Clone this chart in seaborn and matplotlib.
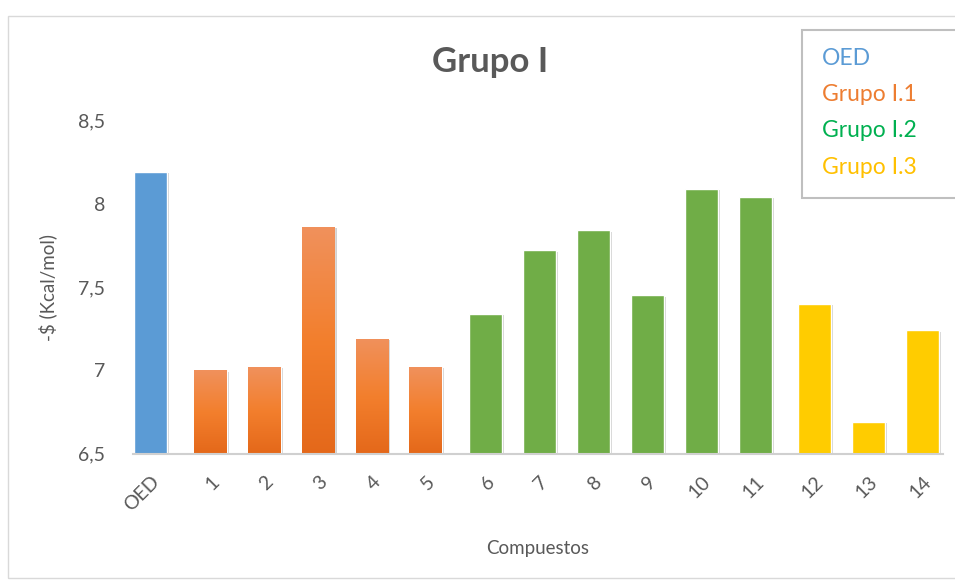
import matplotlib.pyplot as plt
import matplotlib.patheffects as pe
from matplotlib.colors import LinearSegmentedColormap
from matplotlib.patches import Rectangle
import numpy as np
import pandas as pd
import seaborn as sns

compuestos = ['OED', '1', '2', '3', '4', '5', '6', '7', '8', '9', '10',
              '11', '12', '13', '14']
energia = [8.19, 7.00, 7.02, 7.86, 7.19, 7.02, 7.34, 7.72, 7.84, 7.45,
           8.09, 8.04, 7.40, 6.69, 7.24]
grupos = ['OED', 'Grupo I.1', 'Grupo I.1', 'Grupo I.1', 'Grupo I.1',
          'Grupo I.1', 'Grupo I.2', 'Grupo I.2', 'Grupo I.2', 'Grupo I.2',
          'Grupo I.2', 'Grupo I.2', 'Grupo I.3', 'Grupo I.3', 'Grupo I.3']

bar_colors = {'OED': '#5B9BD5', 'Grupo I.1': '#ED7D31',
              'Grupo I.2': '#70AD47', 'Grupo I.3': '#FFCC00'}
legend_colors = {'OED': '#5B9BD5', 'Grupo I.1': '#ED7D31',
                 'Grupo I.2': '#00B050', 'Grupo I.3': '#FFC000'}

# a slightly wider gap between groups, as in the original chart
pos = [0.0]
for prev, cur in zip(grupos[:-1], grupos[1:]):
    pos.append(pos[-1] + (1.0 if prev == cur else 1.107))

df = pd.DataFrame({'pos': pos, 'energia': energia, 'grupo': grupos})

sns.set_style('white')
plt.rcParams['font.family'] = ['Lato', 'DejaVu Sans']
gray = '#595959'
ymin, ymax = 6.5, 8.5

fig = plt.figure(figsize=(9.55, 5.81), dpi=100)
ax = fig.add_axes([0.139, 0.219, 0.848, 0.574])

sns.barplot(ax=ax, data=df, x='pos', y='energia', hue='grupo',
            palette=bar_colors, dodge=False, legend=False, width=0.61,
            saturation=1, native_scale=True)

# shadow + orange gradient like the Excel style
orange = LinearSegmentedColormap.from_list(
    'og', ['#E4681A', '#F37F2D', '#F0915C'])
grad = np.linspace(0, 1, 256).reshape(-1, 1)
for bar, g in zip(ax.patches, grupos):
    bar.set_path_effects([pe.SimplePatchShadow(offset=(1.5, -1), alpha=0.18,
                                               shadow_rgbFace='black'),
                          pe.Normal()])
    if g == 'Grupo I.1':
        x0, top = bar.get_x(), bar.get_y() + bar.get_height()
        w = bar.get_width()
        im = ax.imshow(grad, cmap=orange, origin='lower', aspect='auto',
                       extent=[x0, x0 + w, ymin, top],
                       zorder=bar.zorder + 0.1)
        im.set_clip_path(bar)

ax.set_xlim(pos[0] - 0.33, pos[-1] + 0.37)
ax.set_ylim(ymin, ymax)
ax.set_xticks(pos)
ax.set_xticklabels(compuestos)
ax.set_yticks([6.5, 7, 7.5, 8, 8.5])
ax.set_yticklabels(['6,5', '7', '7,5', '8', '8,5'])

for s in ['top', 'right', 'left']:
    ax.spines[s].set_visible(False)
ax.spines['bottom'].set_color('#D0D0D0')
ax.spines['bottom'].set_linewidth(1.5)

ax.tick_params(axis='both', length=0, colors=gray, labelsize=14)
ax.tick_params(axis='x', pad=14)
ax.tick_params(axis='y', pad=20)
for lab in ax.get_xticklabels():
    lab.set_rotation(45)
    lab.set_ha('right')
    lab.set_rotation_mode('anchor')

ax.set_xlabel('Compuestos', color=gray, fontsize=13.5, labelpad=18)
ax.set_ylabel(r'-\$ (Kcal/mol)', color=gray, fontsize=13.5, labelpad=15)

fig.text(0.513, 0.893, 'Grupo I', ha='center', va='center', fontsize=25,
         fontweight='bold', color=gray)

# legend box: colored text only, the box runs past the right edge
fig.patches.append(Rectangle((0.84, 0.659), 0.2, 0.289,
                             transform=fig.transFigure, fill=True,
                             facecolor='white', edgecolor='#BFBFBF',
                             linewidth=1.5, zorder=5))
for i, (name, c) in enumerate(legend_colors.items()):
    fig.text(0.861, 0.9 - i * 0.0625, name, color=c, fontsize=16.5,
             ha='left', va='center', zorder=6)

# outer chart border
fig.patches.append(Rectangle((0.008, 0.005), 1.2, 0.968,
                             transform=fig.transFigure, fill=False,
                             edgecolor='#D9D9D9', linewidth=1))

fig.savefig('out.png', dpi=100)
